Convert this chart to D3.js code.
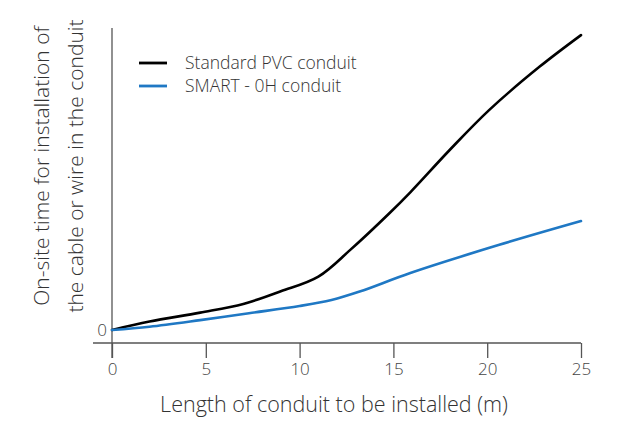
<!DOCTYPE html>
<html>
<head>
<meta charset="utf-8">
<script src="https://cdn.jsdelivr.net/npm/d3@7"></script>
<style>
  body { margin: 0; background: #fff; }
  text { font-family: "Open Sans", "Noto Sans", sans-serif; }
</style>
</head>
<body>
<div class="chart"></div>
<script>
// conduit length (m) vs installation time (arbitrary units)
const pvcLength = [0, 2, 4.7, 7, 9, 11, 12.7, 14.8, 15.9, 18, 20.1, 22.8, 25]
const pvcTime = [0, 2.8, 5.8, 8.7, 12.9, 17.8, 26.7, 39, 45.9, 60, 73.3, 87.8, 98.3]
const smartLength = [0, 2, 4.7, 7.3, 10, 11.7, 13.2, 15.9, 20.6, 25]
const smartTime = [0, 1.1, 3.3, 5.6, 8, 10, 12.8, 19, 28.3, 36.3]
const xTicks = [0, 5, 10, 15, 20, 25]
const seriesNames = ["Standard PVC conduit", "SMART - 0H conduit"]
const seriesColors = ["#000000", "#1f78c4"]

const width = 618, height = 421

const svg = d3.select('.chart').append("svg")
  .attr("width", width)
  .attr("height", height)
  .attr("viewBox", [0, 0, width, height])

let x = d3.scaleLinear().domain([0, 25]).range([112, 581])
let y = d3.scaleLinear().domain([0, 100]).range([330, 30])
const axisY = 343

// x axis
const xAxis = svg.append("g")
  .attr("transform", `translate(0,${axisY})`)
  .call(d3.axisBottom(x).tickValues(xTicks).tickSize(15).tickSizeOuter(0).tickPadding(5))
xAxis.select(".domain").remove()
xAxis.append("line")
  .attr("x1", 93).attr("x2", x(25))
  .attr("stroke", "#555").attr("stroke-width", 1.3)
xAxis.selectAll(".tick line").attr("stroke", "#555").attr("stroke-width", 1.3)
xAxis.selectAll(".tick text")
  .attr("fill", "#444")
  .attr("font-size", 17)
  .attr("font-weight", 300)
  .attr("font-family", "'Open Sans', 'Noto Sans', sans-serif")

// y axis line
svg.append("line")
  .attr("x1", x(0)).attr("x2", x(0))
  .attr("y1", 28).attr("y2", axisY + 15)
  .attr("stroke", "#555").attr("stroke-width", 1.3)

svg.append("text")
  .attr("x", x(0) - 5)
  .attr("y", y(0))
  .attr("dy", "0.35em")
  .attr("text-anchor", "end")
  .attr("fill", "#444")
  .attr("font-size", 17)
  .attr("font-weight", 300)
  .text("0")

// axis titles
svg.append("text")
  .attr("x", 334)
  .attr("y", 412)
  .attr("text-anchor", "middle")
  .attr("fill", "#333")
  .attr("font-size", 21.5)
  .attr("font-weight", 300)
  .text("Length of conduit to be installed (m)")

const yTitle = svg.append("text")
  .attr("transform", "translate(49,166) rotate(-90)")
  .attr("text-anchor", "middle")
  .attr("fill", "#333")
  .attr("font-size", 21)
  .attr("font-weight", 300)
yTitle.append("tspan").attr("x", 0).attr("dy", 0).text("On-site time for installation of")
yTitle.append("tspan").attr("x", 0).attr("dy", 34).text("the cable or wire in the conduit")

// lines
const line = d3.line()
  .x(d => x(d[0]))
  .y(d => y(d[1]))
  .curve(d3.curveCatmullRom.alpha(0.5))

const series = [
  d3.zip(pvcLength, pvcTime),
  d3.zip(smartLength, smartTime)
]

svg.append("g")
  .attr("fill", "none")
  .attr("stroke-width", 2.6)
  .attr("stroke-linecap", "round")
  .selectAll("path")
  .data(series)
  .join("path")
    .attr("stroke", (d, i) => seriesColors[i])
    .attr("d", line)

// legend
const legend = svg.append("g")
  .selectAll("g")
  .data(seriesNames)
  .join("g")
    .attr("transform", (d, i) => `translate(139,${63 + i * 23})`)
legend.append("line")
  .attr("x1", 0).attr("x2", 28)
  .attr("stroke", (d, i) => seriesColors[i])
  .attr("stroke-width", 2.8)
legend.append("text")
  .attr("x", 46)
  .attr("dy", "0.35em")
  .attr("fill", "#333")
  .attr("font-size", 17.5)
  .attr("font-weight", 300)
  .text(d => d)
</script>
</body>
</html>
